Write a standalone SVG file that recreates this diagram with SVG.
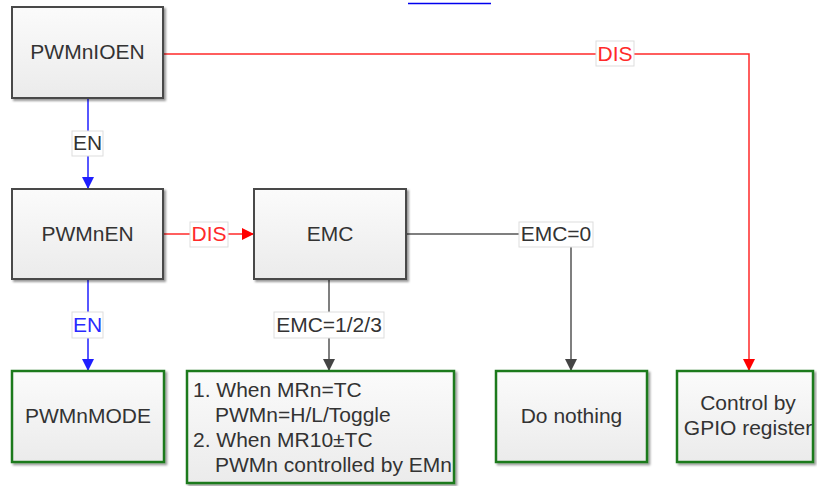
<svg xmlns="http://www.w3.org/2000/svg" width="817" height="486" viewBox="0 0 817 486">
  <style>
    .box { stroke: #4a4a4a; stroke-width: 2; fill: url(#boxFill); filter: url(#shadow); }
    .term { stroke: #1d7a1d; stroke-width: 2.5; fill: url(#boxFill); filter: url(#shadow); }
    .txt { font-family: "Liberation Sans", Arial, sans-serif; font-size: 21px; fill: #333333; }
    .mid { text-anchor: middle; }
    .lbl { fill: #ffffff; stroke: #dddddd; stroke-width: 1; }
    .red { stroke: #ff2a2a; stroke-width: 1.5; fill: none; }
    .blue { stroke: #1f1fff; stroke-width: 1.5; fill: none; }
    .gray { stroke: #555555; stroke-width: 1.5; fill: none; }
  </style>
  <defs>
    <linearGradient id="boxFill" x1="0" y1="0" x2="0" y2="1">
      <stop offset="0" stop-color="#fbfbfb"/>
      <stop offset="1" stop-color="#ebebeb"/>
    </linearGradient>
    <filter id="shadow" x="-10%" y="-10%" width="125%" height="125%">
      <feDropShadow dx="2" dy="2" stdDeviation="1.3" flood-color="#000000" flood-opacity="0.4"/>
    </filter>
    <marker id="arrRed" markerWidth="14" markerHeight="14" refX="12" refY="6" orient="auto" markerUnits="userSpaceOnUse">
      <path d="M0,0 L12,6 L0,12 z" fill="#ff0000"/>
    </marker>
    <marker id="arrBlue" markerWidth="14" markerHeight="14" refX="12" refY="6" orient="auto" markerUnits="userSpaceOnUse">
      <path d="M0,0 L12,6 L0,12 z" fill="#1f1fff"/>
    </marker>
    <marker id="arrGray" markerWidth="14" markerHeight="14" refX="12" refY="6" orient="auto" markerUnits="userSpaceOnUse">
      <path d="M0,0 L12,6 L0,12 z" fill="#444444"/>
    </marker>
  </defs>

  <rect width="817" height="486" fill="#ffffff"/>

  <!-- hyperlink underline from the caption above -->
  <line x1="408" y1="3.5" x2="491" y2="3.5" stroke="#0000ee" stroke-width="1.5"/>

  <!-- connectors -->
  <g id="connectors">
    <path class="red" d="M163,54 H749 V371" marker-end="url(#arrRed)"/>
    <path class="blue" d="M88,98 V189" marker-end="url(#arrBlue)"/>
    <path class="blue" d="M88,279 V371" marker-end="url(#arrBlue)"/>
    <path class="red" d="M163,234 H254" marker-end="url(#arrRed)"/>
    <path class="gray" d="M406,234 H571 V371" marker-end="url(#arrGray)"/>
    <path class="gray" d="M329,279 V371" marker-end="url(#arrGray)"/>

    <rect class="lbl" x="596" y="41" width="38" height="25"/>
    <text class="txt mid" x="615" y="61" style="fill:#ff2a2a">DIS</text>

    <rect class="lbl" x="72" y="131" width="31" height="25"/>
    <text class="txt mid" x="87.5" y="150">EN</text>

    <rect class="lbl" x="190" y="222" width="38" height="25"/>
    <text class="txt mid" x="209" y="241" style="fill:#ff2a2a">DIS</text>

    <rect class="lbl" x="519" y="222" width="74" height="25"/>
    <text class="txt mid" x="556" y="241">EMC=0</text>

    <rect class="lbl" x="72" y="312" width="31" height="26"/>
    <text class="txt mid" x="87.5" y="332" style="fill:#2a2aff">EN</text>

    <rect class="lbl" x="274" y="312" width="110" height="26"/>
    <text class="txt mid" x="329" y="332">EMC=1/2/3</text>
  </g>

  <!-- nodes -->
  <g id="PWMnIOEN">
    <rect class="box" x="12" y="7" width="151" height="91"/>
    <text class="txt mid" x="87.5" y="59">PWMnIOEN</text>
  </g>

  <g id="PWMnEN">
    <rect class="box" x="12" y="189" width="151" height="90"/>
    <text class="txt mid" x="87.5" y="241">PWMnEN</text>
  </g>

  <g id="EMC">
    <rect class="box" x="254" y="189" width="152" height="90"/>
    <text class="txt mid" x="330" y="241">EMC</text>
  </g>

  <g id="PWMnMODE">
    <rect class="term" x="12" y="371" width="152" height="91"/>
    <text class="txt mid" x="88" y="423">PWMnMODE</text>
  </g>

  <g id="EMC-match">
    <rect class="term" x="187" y="371" width="267" height="112"/>
    <text class="txt" x="193" y="397">1. When MRn=TC</text>
    <text class="txt" x="215" y="422">PWMn=H/L/Toggle</text>
    <text class="txt" x="193" y="447">2. When MR10±TC</text>
    <text class="txt" x="215" y="472">PWMn controlled by EMn</text>
  </g>

  <g id="DoNothing">
    <rect class="term" x="496" y="371" width="151" height="91"/>
    <text class="txt mid" x="571.5" y="423">Do nothing</text>
  </g>

  <g id="GPIO">
    <rect class="term" x="677" y="371" width="136" height="91"/>
    <text class="txt mid" x="748" y="410">Control by</text>
    <text class="txt mid" x="748" y="435">GPIO register</text>
  </g>
</svg>
